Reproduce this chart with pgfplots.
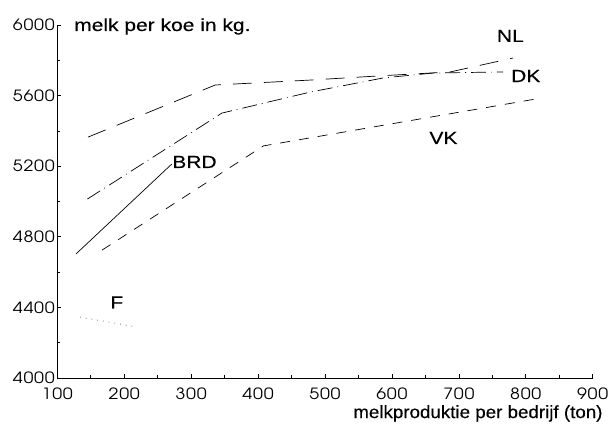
\documentclass[border=0pt]{standalone}
\usepackage{fontspec}
\usepackage{pgfplots}
\usepackage{pgfplotstable}
\pgfplotsset{compat=1.18}
\setmainfont{Liberation Sans}
\newfontfamily\lblfont[FakeStretch=1.2,FakeBold=0.3]{Liberation Sans}
\newfontfamily\xlblfont[FakeStretch=1.06,FakeBold=0.3]{Liberation Sans}
\newfontfamily\tickfont{texgyreadventor-regular.otf}[FakeStretch=1.15,LetterSpace=5]

% melk per koe (kg) tegen melkproduktie per bedrijf (ton)
\pgfplotstableread{
x y
146 5365
336 5660
478 5688
578 5711
687 5734
781 5813
}\nl
\pgfplotstableread{
x y
145 5014
346 5501
478 5620
587 5700
662 5728
766 5734
}\dk
\pgfplotstableread{
x y
167 4725
408 5315
814 5580
}\vk
\pgfplotstableread{
x y
128 4703
271 5212
}\brd
\pgfplotstableread{
x y
134 4345
219 4289
}\fr

\begin{document}
\begin{tikzpicture}
\path[use as bounding box] (-57.3pt,-53pt) rectangle (552.7pt,378pt);
\begin{axis}[
    at={(0pt,0pt)}, anchor=south west,
    scale only axis,
    width=535.4pt, height=353pt,
    xmin=100, xmax=900, ymin=4000, ymax=6000,
    axis lines=left,
    axis line style={-},
    x axis line style={line width=0.8pt},
    y axis line style={line width=1.3pt},
    xtick={100,200,...,900},
    ytick={4000,4400,...,6000},
    minor x tick num=1,
    minor y tick num=1,
    tick align=inside,
    major tick length=4pt,
    minor tick length=3pt,
    tick style={black, line width=0.6pt},
    /pgf/number format/assume math mode=true,
    /pgf/number format/set thousands separator={},
    ticklabel style={font=\tickfont\fontsize{15.5}{15.5}\selectfont},
    yticklabel style={xshift=1pt},
    xticklabel style={yshift=-6pt},
    clip=false,
    every axis plot/.append style={line width=0.7pt, black},
]
\addplot[dash pattern=on 19pt off 12pt] table {\nl};
\addplot[dash pattern=on 15pt off 5pt on 0.8pt off 5pt] table {\dk};
\addplot[dash pattern=on 10pt off 9pt] table {\vk};
\addplot[solid] table {\brd};
\addplot[gray, line width=0.9pt, dash pattern=on 0.8pt off 5pt] table {\fr};

\begin{scope}[every node/.style={font=\lblfont\fontsize{17.5}{17.5}\selectfont, inner sep=0pt}]
\node at (axis cs:777,5938) {NL};
\node at (axis cs:800,5711) {DK};
\node at (axis cs:677,5360) {VK};
\node at (axis cs:305,5224) {BRD};
\node at (axis cs:189,4428) {F};
\node[anchor=base west] at (axis cs:125,5966) {melk per koe in kg.};
\end{scope}
\node[anchor=base east, inner sep=0pt, font=\xlblfont\fontsize{17.7}{17.7}\selectfont]
    at (axis cs:915,3773) {melkproduktie per bedrijf (ton)};
\end{axis}
\end{tikzpicture}
\end{document}
